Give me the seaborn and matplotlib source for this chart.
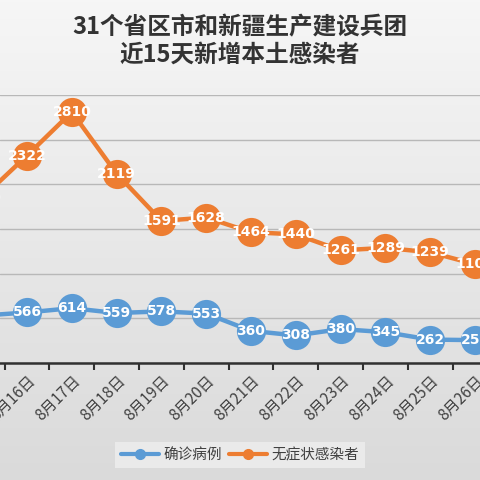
import numpy as np
import pandas as pd
import seaborn as sns
import matplotlib.pyplot as plt
from matplotlib.lines import Line2D

# data (8月15日 is partly cut off on the left)
dates = ['8月15日', '8月16日', '8月17日', '8月18日', '8月19日', '8月20日',
         '8月21日', '8月22日', '8月23日', '8月24日', '8月25日', '8月26日']
confirmed = [530, 566, 614, 559, 578, 553, 360, 308, 380, 345, 262, 256]
asymptomatic = [1850, 2322, 2810, 2119, 1591, 1628, 1464, 1440, 1261, 1289, 1239, 1106]
series_names = ['确诊病例', '无症状感染者']
colors = ['#5B9BD5', '#ED7D31']

sns.set_theme(style='white')
plt.rcParams['font.family'] = ['Noto Sans CJK SC', 'DejaVu Sans']

df = pd.DataFrame({
    'x': list(range(len(dates))) * 2,
    'value': confirmed + asymptomatic,
    'series': [series_names[0]] * len(dates) + [series_names[1]] * len(dates),
})

fig = plt.figure(figsize=(4.8, 4.8), dpi=100)

# gradient background
bg = fig.add_axes([0, 0, 1, 1], zorder=0)
grad = np.linspace(0.965, 0.855, 256).reshape(-1, 1)
bg.imshow(np.dstack([grad, grad, grad]), aspect='auto', extent=[0, 1, 0, 1])
bg.axis('off')

ax = fig.add_axes([0, 1 - 363 / 480, 1, (363 - 95) / 480], zorder=1)
ax.patch.set_alpha(0)

sns.lineplot(data=df, x='x', y='value', hue='series', palette=colors,
             marker='o', markersize=21, markeredgewidth=0, linewidth=3.2,
             legend=False, ax=ax)

for vals in (confirmed, asymptomatic):
    for i, v in enumerate(vals):
        ax.text(i, v, str(v), ha='center', va='center', color='white',
                fontsize=10, fontweight='bold', zorder=5, clip_on=True,
                family=['DejaVu Sans'])

ax.set_yticks(np.arange(0, 3001, 500))
ax.yaxis.grid(True, color='#b8b8b8', linewidth=1)
ax.set_axisbelow(True)
ax.tick_params(axis='y', left=False, labelleft=False)

ax.set_xticks(np.arange(len(dates)) + 0.5)
ax.set_xticklabels([])
ax.tick_params(axis='x', which='major', direction='out', length=5, width=1.5,
               color='#303030', bottom=True)
ax.set_xticks(np.arange(len(dates)), minor=True)
ax.set_xticklabels(dates, minor=True, rotation=45, ha='right',
                   rotation_mode='anchor', fontsize=11, color='#404040')
ax.tick_params(axis='x', which='minor', length=0, pad=7)
ax.set_ylim(0, 3000)
ax.set_xlim(0.397, 11.11)
ax.set_xlabel('')
ax.set_ylabel('')
for s in ['top', 'left', 'right']:
    ax.spines[s].set_visible(False)
ax.spines['bottom'].set_color('#303030')
ax.spines['bottom'].set_linewidth(1.8)

handles = [Line2D([0], [0], color=c, linewidth=3, marker='o', markersize=7)
           for c in colors]
fig.legend(handles, series_names, loc='center', bbox_to_anchor=(0.5, 1 - 455 / 480),
           ncol=2, frameon=True, fancybox=False, facecolor='#ececec',
           edgecolor='none', framealpha=0.9, fontsize=10.5, handlelength=2.6,
           columnspacing=0.5, handletextpad=0.3, labelcolor='#404040')

fig.text(0.5, 1 - 41 / 480, '31个省区市和新疆生产建设兵团\n近15天新增本土感染者',
         ha='center', va='center', fontsize=17, fontweight='bold',
         color='#333333', linespacing=1.2)

fig.savefig('out.png', dpi=100)
